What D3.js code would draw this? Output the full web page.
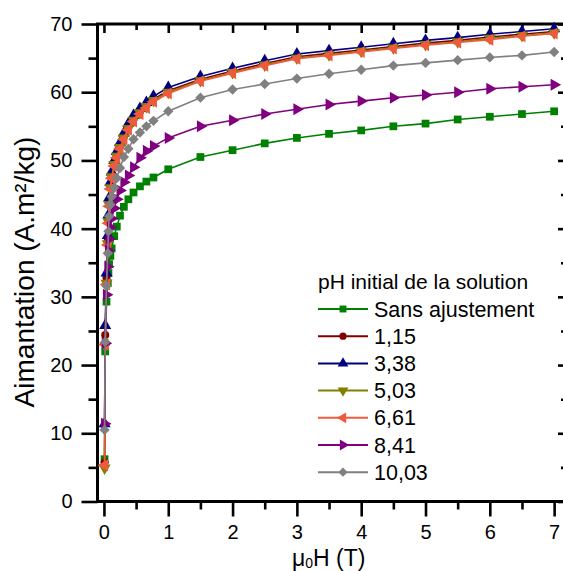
<!DOCTYPE html>
<html>
<head>
<meta charset="utf-8">
<script src="https://cdn.jsdelivr.net/npm/d3@7"></script>
<style>
  html, body { margin: 0; padding: 0; background: #fff; }
  svg { display: block; font-family: "Liberation Sans", Arial, sans-serif; }
</style>
</head>
<body>
<svg id="chart" width="563" height="571"></svg>
<script>
// ---- data ----
const fieldT = [0.01, 0.02, 0.04, 0.06, 0.07, 0.08, 0.1, 0.12, 0.16, 0.2, 0.25, 0.31, 0.38, 0.46, 0.56, 0.66, 0.77, 1.0, 1.5, 2.0, 2.5, 3.0, 3.5, 4.0, 4.5, 5.0, 5.5, 6.0, 6.5, 7.0];
const sansAjustement = [6.2, 22.0, 29.3, 32.0, 33.5, 34.8, 36.0, 37.1, 38.9, 40.3, 41.9, 43.2, 44.3, 45.3, 46.2, 46.9, 47.5, 48.7, 50.5, 51.5, 52.5, 53.3, 53.9, 54.4, 55.0, 55.4, 56.0, 56.4, 56.8, 57.2];
const ph115 = [5.7, 24.4, 32.8, 38.3, 41.3, 43.8, 46.2, 47.8, 49.6, 50.8, 52.1, 53.5, 54.9, 56.1, 57.2, 58.1, 59.0, 60.2, 61.9, 63.1, 64.2, 65.2, 65.7, 66.2, 66.7, 67.2, 67.6, 68.1, 68.5, 68.9];
const ph338 = [11.4, 25.8, 33.5, 39.0, 42.0, 44.5, 46.8, 48.3, 50.0, 51.3, 52.6, 54.0, 55.4, 56.6, 57.6, 58.5, 59.4, 60.7, 62.3, 63.5, 64.6, 65.6, 66.1, 66.6, 67.1, 67.6, 68.0, 68.5, 68.9, 69.3];
const ph503 = [4.9, 22.8, 32.0, 37.8, 41.0, 43.5, 46.0, 47.6, 49.4, 50.6, 51.9, 53.3, 54.7, 55.9, 57.0, 57.9, 58.8, 60.0, 61.7, 62.9, 64.0, 65.0, 65.5, 66.0, 66.5, 67.0, 67.4, 67.9, 68.3, 68.7];
const ph661 = [5.3, 23.0, 31.8, 37.6, 40.8, 43.3, 45.8, 47.4, 49.2, 50.4, 51.7, 53.1, 54.5, 55.7, 56.8, 57.7, 58.6, 59.8, 61.6, 62.8, 63.9, 64.9, 65.4, 65.9, 66.4, 66.9, 67.3, 67.7, 68.2, 68.6];
const ph841 = [11.4, 23.2, 30.3, 34.4, 36.8, 38.5, 40.2, 41.5, 43.0, 44.3, 45.6, 46.8, 47.8, 49.0, 50.4, 51.4, 52.1, 53.3, 55.0, 55.9, 56.8, 57.5, 58.2, 58.7, 59.2, 59.6, 60.0, 60.5, 60.8, 61.1];
const ph1003 = [10.5, 23.4, 31.6, 36.4, 39.6, 41.8, 43.5, 44.7, 46.0, 47.4, 48.9, 50.5, 51.7, 53.1, 54.1, 55.0, 55.8, 57.2, 59.2, 60.4, 61.2, 62.0, 62.7, 63.3, 63.9, 64.3, 64.7, 65.1, 65.4, 65.9];

const seriesNames = ["Sans ajustement", "1,15", "3,38", "5,03", "6,61", "8,41", "10,03"];
const seriesValues = [sansAjustement, ph115, ph338, ph503, ph661, ph841, ph1003];
const seriesColors = ["#008000", "#800000", "#000080", "#808000", "#F05A3C", "#800080", "#808080"];
const seriesMarkers = ["square", "circle", "up", "down", "left", "right", "diamond"];

const xTicks = [0, 1, 2, 3, 4, 5, 6, 7];
const xMinorTicks = [0.5, 1.5, 2.5, 3.5, 4.5, 5.5, 6.5];
const yTicks = [0, 10, 20, 30, 40, 50, 60, 70];
const yMinorTicks = [5, 15, 25, 35, 45, 55, 65];

const legendTitle = "pH initial de la solution";
const xTitle = "H (T)";
const yTitle = "Aimantation (A.m²/kg)";

// ---- layout ----
const svg = d3.select("#chart");
const L = 97.5, R = 567, T = 24, B = 501.5;
const x = d3.scaleLinear().domain([-0.1, 7.2]).range([L, R]);
const y = d3.scaleLinear().domain([0, 70]).range([B, T]);

svg.append("rect").attr("width", 563).attr("height", 571).attr("fill", "#fff");

function styleAxis(g) {
  g.select(".domain").remove();
  g.selectAll(".tick line").attr("stroke", "#000").attr("stroke-width", 2.6);
  g.selectAll(".tick text").attr("fill", "#000");
}

// bottom axis
const gB = svg.append("g").attr("transform", `translate(0,${B})`)
  .call(d3.axisBottom(x).tickValues(xTicks).tickSize(15).tickPadding(10).tickFormat(d3.format("d")))
  .call(styleAxis);
gB.selectAll(".tick text").attr("font-size", 20).attr("font-family", "Liberation Sans, Arial, sans-serif").attr("dy", "0.71em").attr("y", 23.5);
svg.append("g").attr("transform", `translate(0,${B})`)
  .call(d3.axisBottom(x).tickValues(xMinorTicks).tickSize(8).tickFormat(""))
  .call(styleAxis);

// top axis (inward)
svg.append("g").attr("transform", `translate(0,${T})`)
  .call(d3.axisBottom(x).tickValues(xTicks).tickSize(9).tickFormat(""))
  .call(styleAxis);
svg.append("g").attr("transform", `translate(0,${T})`)
  .call(d3.axisBottom(x).tickValues(xMinorTicks).tickSize(6).tickFormat(""))
  .call(styleAxis);

// left axis
const gL = svg.append("g").attr("transform", `translate(${L},0)`)
  .call(d3.axisLeft(y).tickValues(yTicks).tickSize(16).tickPadding(9).tickFormat(d3.format("d")))
  .call(styleAxis);
gL.selectAll(".tick text").attr("font-size", 20).attr("font-family", "Liberation Sans, Arial, sans-serif");
svg.append("g").attr("transform", `translate(${L},0)`)
  .call(d3.axisLeft(y).tickValues(yMinorTicks).tickSize(9).tickFormat(""))
  .call(styleAxis);

// right axis (inward)
svg.append("g").attr("transform", `translate(${R},0)`)
  .call(d3.axisLeft(y).tickValues(yTicks).tickSize(9).tickFormat(""))
  .call(styleAxis);
svg.append("g").attr("transform", `translate(${R},0)`)
  .call(d3.axisLeft(y).tickValues(yMinorTicks).tickSize(6).tickFormat(""))
  .call(styleAxis);

// frame
svg.append("rect").attr("x", L).attr("y", T).attr("width", R - L).attr("height", B - T)
  .attr("fill", "none").attr("stroke", "#000").attr("stroke-width", 3);

// markers
function markerPath(kind, size) {
  switch (kind) {
    case "square": return { d: d3.symbol(d3.symbolSquare, size)(), rot: 0 };
    case "circle": return { d: d3.symbol(d3.symbolCircle, size * 0.85)(), rot: 0 };
    case "up": return { d: d3.symbol(d3.symbolTriangle, size * 1.05)(), rot: 0 };
    case "down": return { d: d3.symbol(d3.symbolTriangle, size * 1.05)(), rot: 180 };
    case "left": return { d: d3.symbol(d3.symbolTriangle, size * 1.05)(), rot: -90 };
    case "right": return { d: d3.symbol(d3.symbolTriangle, size * 1.05)(), rot: 90 };
    case "diamond": return { d: d3.symbol(d3.symbolSquare, size * 0.9)(), rot: 45 };
  }
}

const line = d3.line().x(d => x(d[0])).y(d => y(d[1]));

seriesValues.forEach((vals, i) => {
  const pts = fieldT.map((t, k) => [t, vals[k]]);
  const g = svg.append("g");
  g.append("path").attr("d", line(pts)).attr("fill", "none")
    .attr("stroke", seriesColors[i]).attr("stroke-width", 1.6);
  const m = markerPath(seriesMarkers[i], 60);
  g.selectAll("path.mk").data(pts).join("path").attr("class", "mk")
    .attr("d", m.d)
    .attr("transform", d => `translate(${x(d[0])},${y(d[1])}) rotate(${m.rot})`)
    .attr("fill", seriesColors[i]);
});

// legend
const legX = 318, legY0 = 309, legDY = 27.2;
svg.append("text").attr("x", legX).attr("y", 288.5).attr("font-size", 21).attr("fill", "#000").text(legendTitle);
seriesNames.forEach((name, i) => {
  const cy = legY0 + i * legDY;
  svg.append("line").attr("x1", legX).attr("x2", legX + 50).attr("y1", cy).attr("y2", cy)
    .attr("stroke", seriesColors[i]).attr("stroke-width", 2);
  const m = markerPath(seriesMarkers[i], 48);
  svg.append("path").attr("d", m.d).attr("transform", `translate(${legX + 25},${cy}) rotate(${m.rot})`)
    .attr("fill", seriesColors[i]);
  svg.append("text").attr("x", 374).attr("y", cy + 7.5).attr("font-size", 21.5).attr("fill", "#000").text(name);
});

// axis titles
const xt = svg.append("text").attr("x", 292).attr("y", 566).attr("font-size", 23).attr("fill", "#000");
xt.append("tspan").text("μ");
xt.append("tspan").attr("font-size", 14).attr("dy", 2).text("0");
xt.append("tspan").attr("dy", -2).text(xTitle);

svg.append("text").attr("transform", "translate(34,272) rotate(-90)").attr("text-anchor", "middle")
  .attr("font-size", 28).attr("fill", "#000").text(yTitle);
</script>
</body>
</html>
